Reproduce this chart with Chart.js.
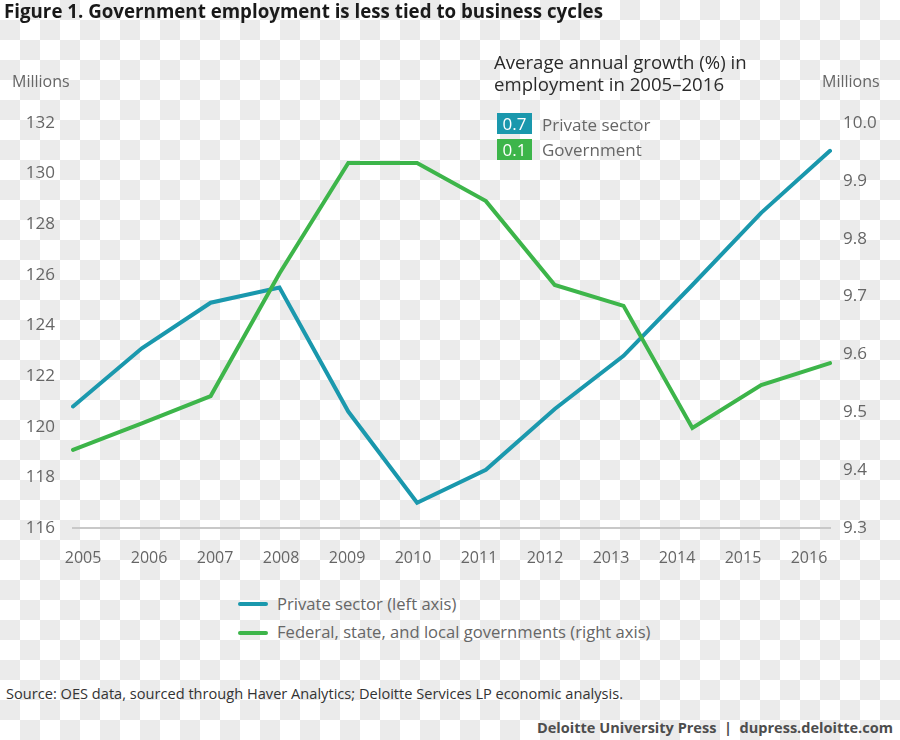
<!DOCTYPE html>
<html>
<head>
<meta charset="utf-8">
<script src="https://cdn.jsdelivr.net/npm/chart.js@4.4.1/dist/chart.umd.min.js"></script>
<style>
  html, body { margin: 0; padding: 0; }
  body {
    width: 900px; height: 740px; position: relative; overflow: hidden;
    font-family: 'Open Sans', sans-serif;
    background: repeating-conic-gradient(#ebebeb 0% 25%, #ffffff 0% 50%) 0 0 / 40px 40px;
  }
  .abs { position: absolute; white-space: nowrap; line-height: 1; }
  .fit { transform-origin: left center; }
  #chartBox { position: absolute; left: 0; top: 0; width: 900px; height: 580px; }
  #title { left: 4px; top: 1.5px; font-size: 19px; font-weight: 700; color: #1a1a1a; }
  .units { top: 72.5px; font-size: 16px; color: #666; }
  #growthHead { left: 494px; top: 51px; font-size: 18.6px; color: #2b2b2b; line-height: 22px; }
  .badge { left: 497px; width: 35px; height: 21px; color: #fff; font-size: 17px; text-align: center; line-height: 21px; }
  .badgeLabel { left: 542px; font-size: 17px; color: #666; }
  .legRow { left: 238px; font-size: 16.6px; color: #666; }
  .legRow i { display: inline-block; width: 30px; height: 4px; border-radius: 2px; vertical-align: middle; margin-right: 9px; position: relative; top: -1px; }
  #source { left: 6px; top: 685.5px; font-size: 15px; color: #333; }
  #footer { left: 537px; top: 719.5px; font-size: 15px; font-weight: 700; color: #4d4d4d; }
</style>
</head>
<body>
<div id="chartBox"><canvas id="employmentChart"></canvas></div>

<div id="title" class="abs fit" data-w="599">Figure 1. Government employment is less tied to business cycles</div>
<div class="abs units" style="left:12px">Millions</div>
<div class="abs units" style="left:822px">Millions</div>

<div id="growthHead" class="abs">Average annual growth (%) in<br>employment in 2005–2016</div>
<div id="badges"></div>

<div id="legend"></div>

<div id="source" class="abs fit" data-w="617">Source: OES data, sourced through Haver Analytics; Deloitte Services LP economic analysis.</div>
<div id="footer" class="abs fit" data-w="356">Deloitte University Press &nbsp;|&nbsp; dupress.deloitte.com</div>

<script>
// data
const years = ["2005", "2006", "2007", "2008", "2009", "2010", "2011", "2012", "2013", "2014", "2015", "2016"];
const privateSector = [120.8, 123.1, 124.9, 125.5, 120.6, 117.0, 118.3, 120.7, 122.8, 125.6, 128.45, 130.9];
const government = [9.435, 9.481, 9.528, 9.74, 9.931, 9.931, 9.865, 9.72, 9.684, 9.473, 9.547, 9.585];
const leftTicks = [116, 118, 120, 122, 124, 126, 128, 130, 132];
const rightTicks = [9.3, 9.4, 9.5, 9.6, 9.7, 9.8, 9.9, 10.0];
const growthNames = ["Private sector", "Government"];
const growthRates = ["0.7", "0.1"];
const legendNames = ["Private sector (left axis)", "Federal, state, and local governments (right axis)"];

const BLUE = "#1a98ad";
const GREEN = "#3db54a";
const colors = [BLUE, GREEN];

window.addEventListener("DOMContentLoaded", () => {
  // growth badges (top right)
  document.getElementById("badges").innerHTML = growthNames
    .map(
      (name, i) =>
        `<div class="abs badge" style="top:${113 + i * 26}px;background:${colors[i]}">${growthRates[i]}</div>
         <div class="abs badgeLabel" style="top:${115.5 + i * 25.5}px">${name}</div>`,
    )
    .join("");

  // bottom legend
  document.getElementById("legend").innerHTML = legendNames
    .map(
      (name, i) =>
        `<div class="abs legRow" style="top:${595.5 + i * 28.5}px"><i style="background:${colors[i]}"></i>${name}</div>`,
    )
    .join("");

  // squeeze condensed-looking texts to their measured width
  document.querySelectorAll(".fit").forEach((el) => {
    const w = el.getBoundingClientRect().width;
    el.style.transform = `scaleX(${el.dataset.w / w})`;
  });

  Chart.defaults.font.family = "'Open Sans', sans-serif";
  Chart.defaults.color = "#666";

  const ctx = document.getElementById("employmentChart").getContext("2d");
  new Chart(ctx, {
    type: "line",
    data: {
      labels: years,
      datasets: [
        {
          label: legendNames[0],
          data: privateSector,
          xAxisID: "x",
          yAxisID: "yLeft",
          borderColor: BLUE,
          borderWidth: 4,
          pointRadius: 0,
          tension: 0,
          borderCapStyle: "round",
          order: 1,
        },
        {
          label: legendNames[1],
          data: government,
          xAxisID: "x",
          yAxisID: "yRight",
          borderColor: GREEN,
          borderWidth: 4,
          pointRadius: 0,
          tension: 0,
          borderCapStyle: "round",
          order: 0,
        },
      ],
    },
    options: {
      responsive: true,
      maintainAspectRatio: false,
      animation: false,
      layout: { padding: { top: 123, left: 0, right: 0, bottom: 0 } },
      plugins: { legend: { display: false }, tooltip: { enabled: false } },
      scales: {
        // the plotted category axis (hidden)
        x: { display: false, offset: false },
        // year labels: in the original they sit a little inside the plotted points
        xLabels: {
          type: "linear",
          position: "bottom",
          min: 2004.848,
          max: 2016.318,
          grid: { display: false, drawTicks: false },
          border: { display: true, color: "#c8c8c8", width: 2 },
          ticks: { padding: 21, font: { size: 16 }, color: "#666", maxRotation: 0, autoSkip: false, callback: (v) => String(v) },
          afterBuildTicks: (s) => { s.ticks = years.map((y) => ({ value: Number(y) })); },
          afterFit: (s) => { s.height = 52; },
        },
        yLeft: {
          position: "left",
          min: leftTicks[0],
          max: leftTicks[leftTicks.length - 1],
          grid: { display: false, drawTicks: false },
          border: { display: false },
          ticks: { padding: 18, font: { size: 17 }, color: "#666" },
          afterBuildTicks: (s) => { s.ticks = leftTicks.map((v) => ({ value: v })); },
          afterFit: (s) => { s.width = 73; },
        },
        yRight: {
          position: "right",
          min: rightTicks[0],
          max: rightTicks[rightTicks.length - 1],
          grid: { display: false, drawTicks: false },
          border: { display: false },
          ticks: { padding: 13, font: { size: 17 }, color: "#666", callback: (v) => Number(v).toFixed(1) },
          afterBuildTicks: (s) => { s.ticks = rightTicks.map((v) => ({ value: v })); },
          afterFit: (s) => { s.width = 70; },
        },
      },
    },
  });
});
</script>
</body>
</html>
